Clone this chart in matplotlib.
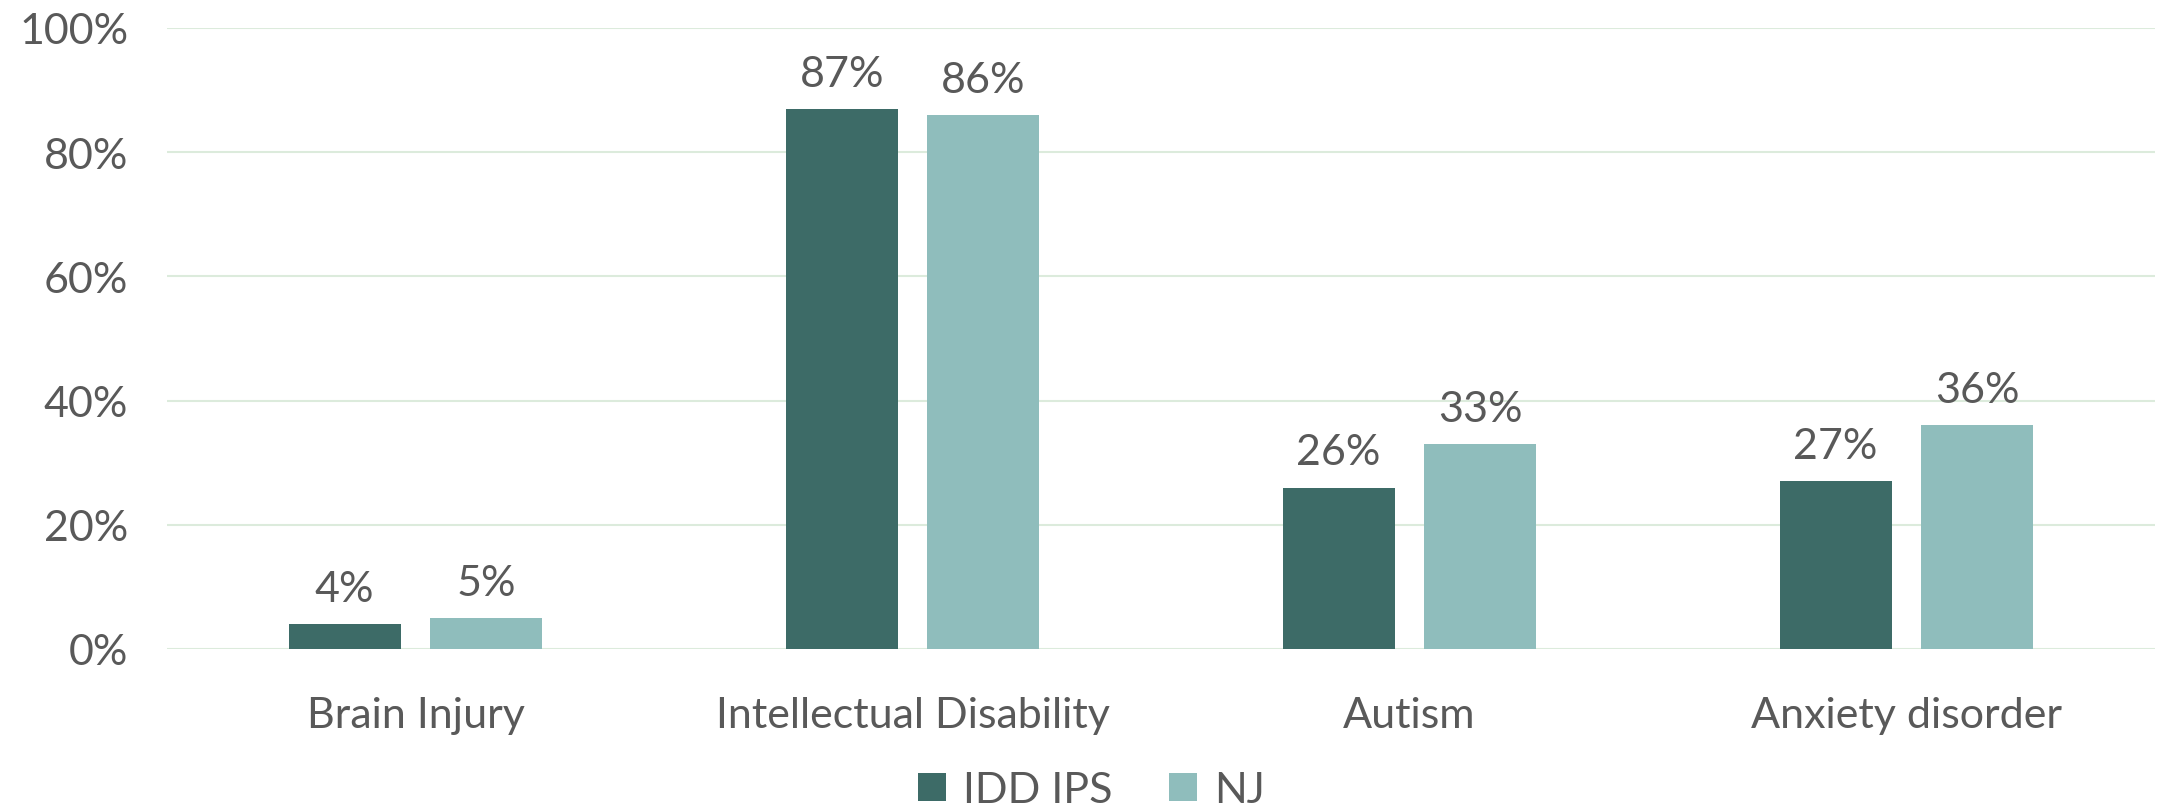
import matplotlib.pyplot as plt
import numpy as np

# 数据
categories = ['Brain Injury', 'Intellectual Disability', 'Autism', 'Anxiety disorder']
idd_ips = [4, 87, 26, 27]
nj = [5, 86, 33, 36]
series_names = ['IDD IPS', 'NJ']
y_ticks = [0, 20, 40, 60, 80, 100]

plt.rcParams['font.family'] = ['Lato', 'DejaVu Sans']
TEXT = '#595959'
C_IDD = '#3d6b67'
C_NJ = '#8fbdbc'
FS = 31

fig = plt.figure(figsize=(21.83, 8.12), dpi=100)
ax = fig.add_axes([167 / 2183, 1 - 650 / 812, (2155 - 167) / 2183, (650 - 29) / 812])

x = np.arange(len(categories))
w = 0.225
off = 0.1425
b1 = ax.bar(x - off, idd_ips, w, color=C_IDD, label=series_names[0], zorder=3)
b2 = ax.bar(x + off, nj, w, color=C_NJ, label=series_names[1], zorder=3)

for bars in (b1, b2):
    for r in bars:
        ax.text(r.get_x() + r.get_width() / 2, r.get_height() + 2.6, f'{int(r.get_height())}%',
                ha='center', va='bottom', fontsize=FS, color=TEXT)

ax.set_xlim(-0.5, 3.5)
ax.set_ylim(0, 100)
ax.set_yticks(y_ticks)
ax.set_yticklabels([f'{v}%' for v in y_ticks])
ax.set_xticks(x)
ax.set_xticklabels(categories)
ax.grid(axis='y', color='#dcebdc', linewidth=1.5, zorder=0)
for s in ax.spines.values():
    s.set_visible(False)
ax.tick_params(length=0, labelsize=FS, colors=TEXT)
ax.tick_params(axis='y', pad=28)
ax.tick_params(axis='x', pad=34)

fig.legend(loc='center', bbox_to_anchor=(0.5, 1 - 791 / 812), ncol=2, frameon=False,
           fontsize=FS, labelcolor=TEXT, handlelength=0.65, handleheight=0.65,
           handletextpad=0.4, columnspacing=1.3)

fig.savefig('out.png', dpi=100)
